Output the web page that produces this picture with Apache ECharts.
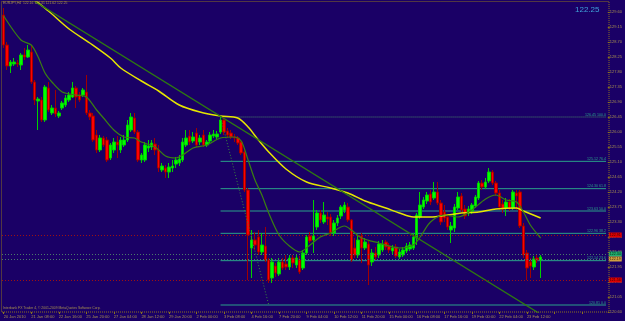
<!DOCTYPE html>
<html><head><meta charset="utf-8">
<script src="https://cdn.jsdelivr.net/npm/echarts@6/dist/echarts.min.js"></script>
<style>html,body{margin:0;padding:0;background:#1a0066}#c{width:625px;height:321px}</style>
</head><body><div id="c"></div>
<script>
// x-axis tick labels (every 8th H4 bar)
const timeLabels = ['20 Jan 2010','21 Jan 08:00','22 Jan 16:00','25 Jan 20:00','27 Jan 04:00','28 Jan 12:00','29 Jan 20:00','2 Feb 00:00','3 Feb 08:00','4 Feb 16:00','7 Feb 20:00','9 Feb 04:00','10 Feb 12:00','11 Feb 20:00','15 Feb 00:00','16 Feb 08:00','17 Feb 16:00','19 Feb 00:00','22 Feb 04:00','23 Feb 12:00'];
// EURJPY H4 candles: [open, close, low, high]
const ohlc = [
[129.51,128.61,128.52,129.72],[128.61,127.98,127.86,128.70],[127.98,128.10,127.77,128.16],[128.04,128.10,127.98,128.22],
[128.07,128.04,127.95,128.16],[128.01,128.31,127.86,128.37],[128.31,128.25,128.16,128.52],[128.25,128.46,128.22,128.61],
[128.40,127.50,127.44,128.61],[127.50,126.96,126.81,127.56],[126.93,126.99,126.06,127.05],[126.96,126.36,126.30,127.05],
[126.36,127.35,126.30,127.41],[127.32,126.66,126.60,127.50],[126.57,126.72,126.51,126.81],[126.72,126.54,126.45,127.26],
[126.48,126.57,126.42,126.63],[126.72,126.87,126.66,126.93],[126.81,127.02,126.75,127.11],[126.96,127.11,126.90,127.20],
[127.05,127.32,127.02,127.50],[127.32,127.05,126.72,127.38],[127.11,126.96,126.90,127.20],[127.11,127.26,127.05,127.32],
[127.20,126.57,126.51,127.71],[126.57,126.45,126.36,126.66],[126.48,125.76,125.70,126.57],[125.91,125.46,125.37,126.06],
[125.46,125.82,125.40,125.91],[125.82,125.61,125.55,125.88],[125.76,125.16,125.10,125.85],[125.22,125.61,125.16,125.67],
[125.46,125.70,125.37,125.82],[125.70,125.61,125.22,125.88],[125.46,125.76,125.37,125.85],[125.61,125.76,125.55,125.91],
[125.76,126.21,125.70,126.36],[126.06,126.45,126.00,126.57],[126.42,126.00,125.94,126.57],[126.00,125.16,125.10,126.06],
[125.16,125.31,125.07,125.37],[125.16,125.61,125.10,125.70],[125.52,125.58,125.40,125.76],[125.55,125.67,125.46,125.76],
[125.64,125.46,125.31,125.82],[125.46,124.92,124.80,125.61],[124.86,124.98,124.80,125.07],[124.92,124.80,124.62,125.01],
[124.80,124.95,124.62,125.07],[124.92,124.98,124.80,125.16],[125.04,125.16,124.92,125.25],[125.07,125.19,124.98,125.31],
[125.16,125.70,125.10,125.82],[125.61,125.82,125.55,126.06],[125.88,125.70,125.61,126.06],[125.73,125.85,125.67,126.00],
[125.97,125.61,125.55,126.12],[125.70,125.82,125.61,125.91],[125.91,125.61,125.55,126.06],[125.61,125.70,125.55,125.76],
[125.73,125.91,125.67,126.00],[125.88,125.94,125.82,126.06],[125.85,125.94,125.79,126.03],[126.00,126.36,125.94,126.45],
[126.36,126.00,125.91,126.45],[126.03,125.91,125.82,126.12],[125.97,125.85,125.79,126.06],[125.85,125.82,125.70,125.94],
[125.82,125.67,125.61,125.88],[125.70,125.37,125.31,125.76],[125.40,124.26,124.20,125.52],[124.26,122.91,121.56,124.32],
[122.52,122.76,121.62,123.06],[122.76,122.61,122.46,123.00],[122.85,122.40,122.31,123.06],[122.40,122.61,122.31,122.97],
[122.58,122.16,122.10,123.15],[122.16,121.56,121.47,122.22],[121.62,122.10,121.47,122.22],[121.98,121.77,121.65,122.07],
[121.74,122.10,121.68,122.22],[122.10,121.92,121.86,122.22],[122.04,121.95,121.86,122.31],[121.95,122.22,121.86,122.31],
[122.22,122.07,121.92,122.31],[122.01,122.22,121.92,122.31],[122.16,121.80,121.74,122.28],[121.92,122.37,121.86,122.46],
[122.37,122.85,122.31,122.91],[122.88,122.73,122.67,123.00],[122.76,122.88,122.37,123.96],[123.15,123.57,123.06,123.66],
[123.57,123.36,123.27,123.66],[123.30,123.51,123.24,123.90],[123.45,123.39,123.21,123.60],[123.45,122.97,122.88,123.54],
[122.97,123.27,122.88,123.36],[123.27,123.42,123.18,123.51],[123.48,123.75,123.39,123.81],[123.66,123.81,123.57,123.90],
[123.75,123.36,123.30,123.87],[123.36,122.16,122.10,123.39],[122.52,122.31,122.22,122.82],[122.31,122.76,122.22,122.88],
[122.88,122.52,122.07,122.97],[122.52,122.70,122.46,122.82],[122.64,122.01,121.41,122.76],[122.10,122.37,121.98,122.49],
[122.37,122.25,122.16,122.55],[122.31,122.64,122.22,122.73],[122.46,122.64,122.40,122.76],[122.70,122.55,122.46,122.76],
[122.58,122.46,122.37,122.67],[122.43,122.52,122.34,122.61],[122.55,122.28,122.22,122.64],[122.25,122.40,122.19,122.49],
[122.31,122.46,122.25,122.55],[122.43,122.58,122.37,122.67],[122.49,122.61,122.43,122.70],[122.52,122.85,122.46,122.97],
[122.82,123.51,122.61,123.57],[123.45,123.81,123.39,124.20],[123.75,123.96,123.69,124.05],[123.93,124.11,123.84,124.20],
[124.14,123.90,123.81,124.26],[124.02,124.20,123.96,124.50],[124.20,123.87,123.81,124.50],[123.87,123.30,123.21,123.96],
[123.60,123.42,123.30,123.81],[123.45,123.15,123.06,123.54],[123.06,123.18,122.67,123.30],[123.12,123.75,123.00,123.84],
[123.72,124.05,123.66,124.20],[124.08,123.66,123.60,124.17],[123.69,123.48,123.39,123.81],[123.57,123.69,123.48,123.78],
[123.63,123.81,123.54,123.87],[123.78,124.05,123.72,124.11],[124.02,124.47,123.96,124.53],[124.47,124.35,124.26,124.56],
[124.35,124.50,124.29,124.62],[124.53,124.80,124.47,124.92],[124.80,124.47,124.41,124.86],[124.47,124.17,124.08,124.53],
[124.17,123.75,123.66,124.26],[123.84,123.69,123.57,123.96],[123.72,123.90,123.48,124.02],[123.90,123.72,123.63,123.99],
[123.72,124.20,123.66,124.26],[124.17,124.08,123.66,124.26],[124.20,123.18,123.12,124.26],[123.18,122.31,122.22,123.27],
[122.37,121.92,121.56,122.46],[122.10,121.98,121.62,122.22],[121.95,122.19,121.86,122.28],[122.22,122.16,122.07,122.31],
[122.16,122.25,121.62,122.31]
];
// slow MA (yellow), read at bar indices
const maSlowIdx = [0,4,9,13,19,25,31,34,40,45,51,57,63,68,71,74,77,82,88,95,100,105,111,115,119,124,129,133,138,143,149,151,156];
const maSlowVal = [130.71,130.38,129.96,129.63,129.09,128.67,128.22,127.92,127.53,127.23,126.81,126.60,126.48,126.42,126.15,125.76,125.40,124.89,124.50,124.32,124.17,123.93,123.72,123.57,123.45,123.45,123.51,123.57,123.60,123.69,123.72,123.63,123.42];
// fast MA (green)
const maFastIdx = [0,5,8,10,12,14,17,21,24,27,29,32,35,38,40,44,47,50,52,55,59,63,67,69,71,73,75,77,80,83,86,89,92,95,99,101,104,109,115,119,121,124,128,132,136,140,143,146,149,151,153,156];
const maFastVal = [129.48,128.76,128.61,128.25,127.77,127.50,127.20,127.11,127.05,126.66,126.42,126.06,125.85,125.82,125.70,125.55,125.28,125.22,125.31,125.52,125.61,125.82,125.85,125.73,125.16,124.56,124.11,123.57,122.91,122.58,122.40,122.61,122.85,122.97,123.18,123.06,122.82,122.67,122.52,122.61,122.85,123.30,123.51,123.45,123.66,123.99,124.11,123.96,123.90,123.60,123.21,122.82];
// trendline and Fibonacci
const trendIdx = [0,175];
const trendVal = [130.49,119.32];
const fibIdx = [63,77];
const fibVal = [126.45,120.81];
const fibLevels = [100.0,76.4,61.8,50.0,38.2,23.6,0.0];
const fibPrices = [126.45,125.12,124.30,123.63,122.96,122.14,120.81];
// horizontal lines
const redLines = [122.91,121.56];
const greenLine = [122.34];
const yellowLine = [122.19];
const bidPrice = '122.25';
const header = 'EURJPY,H4  122.16 122.31 121.62 122.25';
const copyright = 'Interbank FX Trader 4, \u00a9 2001-2009 MetaQuotes Software Corp.';

const N = 176;
const cats = Array.from({length:N},(_,i)=> (i%8===0 && i/8<timeLabels.length)? timeLabels[i/8] : 'b'+i);
const pairs = (ix,vs)=>ix.map((x,k)=>[x,vs[k]]);
const OL = '#a89050', FR = '#8a7020', FIB = '#2aa08a';
const FF = 'Liberation Sans';

const hLine = (v,lc,bg,tc)=>({yAxis:v,lineStyle:{color:lc,type:[1,2],width:1},
  label:{show:true,position:'end',distance:1,formatter:v.toFixed(2),backgroundColor:bg,color:tc,fontSize:3.6,fontFamily:FF,padding:[0.5,1]}});

const fibSeries = fibPrices.map((p,k)=>({
  type:'line', data:[[fibIdx[0],p],[N-1,p]], showSymbol:false, silent:true, z:2,
  color:FIB,
  lineStyle:k===0?{color:'#4a8a6a',type:[1,1],width:1}:{color:FIB,type:'solid',width:1},
  endLabel:{show:true,formatter:p.toFixed(2)+' '+fibLevels[k].toFixed(1),color:FIB,fontSize:3.6,fontFamily:FF,
    align:'right',verticalAlign:'bottom',distance:0,offset:[0,-0.5]}
}));

const chart = echarts.init(document.getElementById('c'),null,{renderer:'canvas'});
chart.setOption({
  backgroundColor:'#1a0066',
  animation:false,
  grid:{left:2,right:16,top:2,bottom:9},
  xAxis:{type:'category',data:cats,boundaryGap:true,
    axisLine:{show:false},
    axisTick:{show:true,interval:7,length:2,alignWithLabel:true,lineStyle:{color:FR}},
    axisLabel:{interval:7,margin:3,align:'left',color:OL,fontSize:4,fontFamily:FF,
      formatter:(v,i)=>(i%8===0 && i/8<timeLabels.length)?timeLabels[i/8]:''},
    splitLine:{show:false}},
  yAxis:{type:'value',position:'right',min:120.6,max:129.9,interval:0.45,
    axisLine:{show:false},
    axisTick:{show:true,length:2,lineStyle:{color:FR}},
    axisLabel:{color:OL,fontSize:4,fontFamily:FF,margin:2,showMaxLabel:false,formatter:v=>v.toFixed(2)},
    splitLine:{show:false}},
  series:[
    ...fibSeries,
    {type:'candlestick',data:ohlc,barWidth:3,z:3,
     itemStyle:{color:'#00ff00',color0:'#ff0000',borderColor:'#00d000',borderColor0:'#a00000',borderWidth:1},
     markLine:{silent:true,symbol:['none','none'],animation:false,
       data:[hLine(redLines[0],'#a01010','#e00000','#300000'),hLine(redLines[1],'#a01010','#e00000','#300000'),
             hLine(greenLine[0],'#4a7a6a','#20b070','#002010'),hLine(yellowLine[0],'#4a7a6a','#d0a040','#302000')]}},
    {type:'line',data:pairs(maSlowIdx,maSlowVal),showSymbol:false,smooth:0.3,lineStyle:{color:'#e6e600',width:1.5},z:4},
    {type:'line',data:pairs(maFastIdx,maFastVal),showSymbol:false,smooth:0.3,lineStyle:{color:'#3a8010',width:1.2},z:4},
    {type:'line',data:pairs(trendIdx,trendVal),showSymbol:false,lineStyle:{color:'#2e7a10',width:1.3},z:4},
    {type:'line',data:pairs(fibIdx,fibVal),showSymbol:false,lineStyle:{color:'#3a8a3a',width:1,type:[1,2]},z:4}
  ],
  graphic:[
    {type:'rect',shape:{x:1.5,y:1.5,width:607.5,height:310.5},style:{fill:null,stroke:FR,lineDash:[1,1],lineWidth:1},silent:true,z:10},
    {type:'text',left:3,top:2,style:{text:header,fill:OL,font:'3.4px '+FF},z:10},
    {type:'text',left:3,top:307,style:{text:copyright,fill:OL,font:'3.4px '+FF},z:10},
    {type:'text',left:575,top:6,style:{text:bidPrice,fill:'#3fa0d8',font:'8px '+FF},z:10}
  ]
});
</script></body></html>
